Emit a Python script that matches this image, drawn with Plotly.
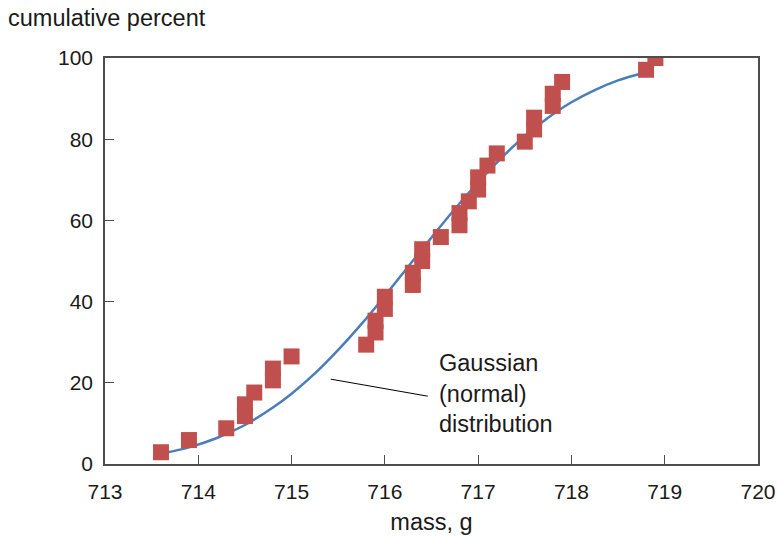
import plotly.graph_objects as go

# measured data points (mass in g, cumulative percent)
mass = [713.6, 713.9, 714.3, 714.5, 714.5, 714.6, 714.8, 714.8, 715.0,
        715.8, 715.9, 715.9, 716.0, 716.0, 716.3, 716.3, 716.4, 716.4,
        716.6, 716.8, 716.8, 716.9, 717.0, 717.0, 717.1, 717.2, 717.5,
        717.6, 717.6, 717.8, 717.8, 717.9, 718.8, 718.9]
cum_pct = [2.9, 5.9, 8.8, 11.8, 14.7, 17.6, 20.6, 23.5, 26.5,
           29.4, 32.4, 35.3, 38.2, 41.2, 44.1, 47.1, 50.0, 52.9,
           55.9, 58.8, 61.8, 64.7, 67.6, 70.6, 73.5, 76.5, 79.4,
           82.4, 85.3, 88.2, 91.2, 94.1, 97.1, 100.0]

# Gaussian curve
curve_x = [713.64, 713.9, 714.2, 714.5, 714.8, 715.0, 715.25, 715.5, 715.75,
           716.0, 716.25, 716.5, 716.75, 717.0, 717.25, 717.5, 717.75,
           718.0, 718.25, 718.5, 718.75]
curve_y = [2.7, 4.1, 6.4, 9.6, 13.9, 17.3, 22.3, 28.1, 34.5,
           41.4, 48.6, 55.8, 62.8, 69.4, 75.4, 80.8, 85.3,
           89.1, 92.1, 94.5, 96.2]

x_ticks = [713, 714, 715, 716, 717, 718, 719, 720]
y_ticks = [0, 20, 40, 60, 80, 100]

label_text = "Gaussian<br>(normal)<br>distribution"
label_pos = (716.56, 17.3)
leader = ((715.42, 20.9), (716.46, 16.7))

FONT = "Liberation Sans, Arial, sans-serif"
AX = "#4d4d4d"

fig = go.Figure()
fig.add_trace(go.Scatter(x=curve_x, y=curve_y, mode="lines",
                         line=dict(color="#4a7ebb", width=2.5, shape="spline"),
                         hoverinfo="skip", showlegend=False))
fig.add_trace(go.Scatter(x=mass, y=cum_pct, mode="markers",
                         marker=dict(symbol="square", size=16, color="#c0504d",
                                     line=dict(color="#c0504d", width=0)),
                         showlegend=False))

fig.add_shape(type="line", xref="x", yref="y",
              x0=leader[0][0], y0=leader[0][1], x1=leader[1][0], y1=leader[1][1],
              line=dict(color="black", width=1))
fig.add_annotation(x=label_pos[0], y=label_pos[1], xref="x", yref="y",
                   text=label_text, showarrow=False, xanchor="left",
                   yanchor="middle", align="left",
                   font=dict(family=FONT, size=23.5, color="#1a1a1a"))
fig.add_annotation(x=-0.151, y=1.098, xref="paper", yref="paper",
                   text="cumulative percent", showarrow=False,
                   xanchor="left", yanchor="middle",
                   font=dict(family=FONT, size=23.5, color="#1a1a1a"))

fig.update_layout(
    width=778, height=536,
    margin=dict(l=105, r=20, t=58, b=72),
    paper_bgcolor="white", plot_bgcolor="white",
    font=dict(family=FONT, color="#1a1a1a"),
    xaxis=dict(range=[713, 720], tickvals=x_ticks, ticks="inside", ticklen=9,
               tickcolor=AX, tickwidth=1.3, showline=True, linecolor=AX,
               linewidth=1.5, mirror=True, showgrid=False, zeroline=False,
               automargin=False,
               tickfont=dict(size=21), ticklabelstandoff=8,
               title=dict(text="mass, g", font=dict(size=23.5), standoff=12)),
    yaxis=dict(range=[0, 100], tickvals=y_ticks, ticks="inside", ticklen=9,
               tickcolor=AX, tickwidth=1.3, showline=True, linecolor=AX,
               linewidth=1.5, mirror=True, showgrid=False, zeroline=False,
               automargin=False,
               tickfont=dict(size=21), ticklabelstandoff=6),
)

fig.write_html("out.html")
